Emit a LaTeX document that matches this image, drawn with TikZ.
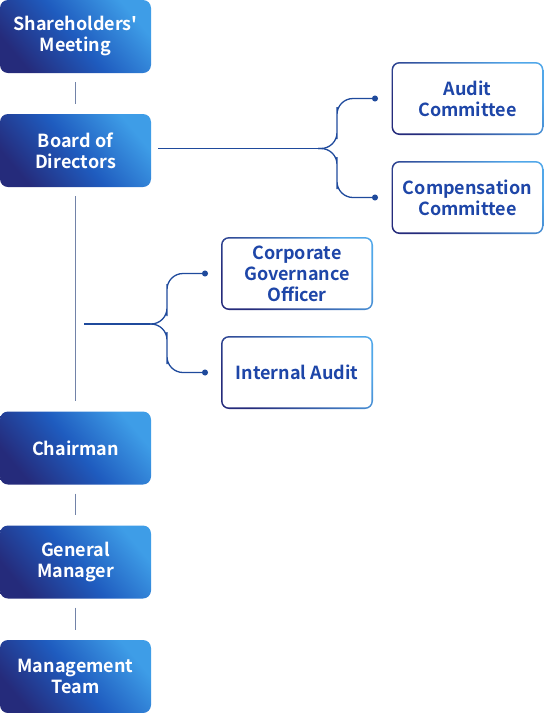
\documentclass[tikz,border=0pt]{standalone}
\usepackage{fontspec}
\setmainfont{Noto Sans CJK SC}[BoldFont={Noto Sans CJK SC Bold}]
\usepackage{tikz}
\usetikzlibrary{arrows.meta, positioning}
\definecolor{navy}{HTML}{252B7B}
\definecolor{midblue}{HTML}{1F5CBF}
\definecolor{skyblue}{HTML}{3E9DE7}
\definecolor{inkblue}{HTML}{1E46A8}
\definecolor{branch}{HTML}{1F4A9C}
\definecolor{stem}{HTML}{7283A8}

\begin{document}
\begin{tikzpicture}[
    x=1pt, y=-1pt,
    every node/.style={font=\fontsize{18}{21}\selectfont\bfseries, align=center},
    solidbox/.style={rectangle, rounded corners=8pt, minimum width=151pt, minimum height=73pt,
        top color=skyblue, bottom color=navy, middle color=midblue, shading angle=-50, text=white},
    linebox/.style={rectangle, rounded corners=8pt, minimum width=152pt, minimum height=73pt,
        top color=skyblue!90!white, bottom color=navy, shading angle=-50, text=inkblue,
        path picture={\fill[white, rounded corners=6.5pt]
            ([shift={(1.6pt,1.6pt)}]path picture bounding box.south west) rectangle
            ([shift={(-1.6pt,-1.6pt)}]path picture bounding box.north east);}},
    vline/.style={stem, line width=1pt, shorten >=10pt, shorten <=9pt},
    fork/.style={branch, line width=1.3pt, rounded corners=16pt, -{Circle[length=6pt]}},
    feed/.style={branch, line width=1.3pt}
]
\useasboundingbox (0,0) rectangle (544,713);

% Main column
\node[solidbox] (sm)    at (75.5,36.5)  {Shareholders\textquotesingle\\Meeting};
\node[solidbox] (bod)   at (75.5,150.5) {Board of\\Directors};
\node[solidbox] (chair) at (75.5,448)   {Chairman};
\node[solidbox] (gm)    at (75.5,562)   {General\\Manager};
\node[solidbox] (mt)    at (75.5,676.5) {Management\\Team};

% Committees
\node[linebox] (audit) at (467.5,98.5)  {Audit\\Committee};
\node[linebox] (comp)  at (467.5,197.5) {Compensation\\Committee};

% Officers
\node[linebox] (cgo) at (297,273.5) {Corporate\\Governance\\Officer};
\node[linebox] (ia)  at (297,372.5) {Internal Audit};

% Column links
\draw[vline] (sm) -- (bod);
\draw[vline] (bod) -- (chair);
\draw[vline] (chair) -- (gm);
\draw[vline] (gm) -- (mt);

% Board branch
\coordinate (split1) at (318,148.5);
\coordinate (dotA) at (378,98.5);
\coordinate (dotC) at (378,197.5);
\draw[feed] ([xshift=7pt]bod.east |- split1) -- (split1);
\draw[fork] (split1) -| (337,123) |- (dotA);
\draw[fork] (split1) -| (337,173) |- (dotC);

% Officer branch
\coordinate (tap) at (84,324);
\coordinate (split2) at (150,324);
\coordinate (dotG) at (208,273.5);
\coordinate (dotI) at (208,372.5);
\draw[feed] (tap) -- (split2);
\draw[fork] (split2) -| (167,300) |- (dotG);
\draw[fork] (split2) -| (167,348) |- (dotI);
\end{tikzpicture}
\end{document}
